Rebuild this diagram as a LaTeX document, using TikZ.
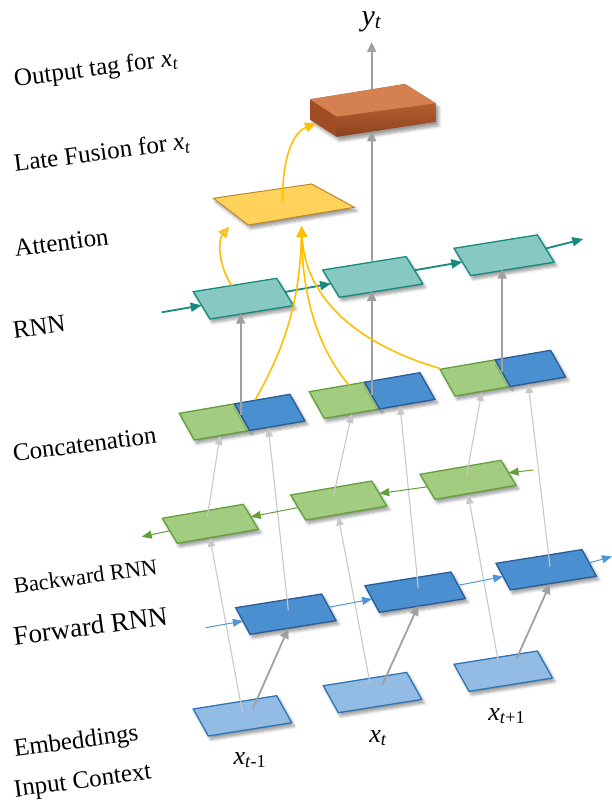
\documentclass[tikz,border=0pt]{standalone}
\usepackage{fontspec}
\setmainfont{Liberation Serif}
\usetikzlibrary{arrows.meta,shadows.blur}
\definecolor{embF}{RGB}{147,188,228}
\definecolor{embD}{RGB}{46,117,182}
\definecolor{fwdF}{RGB}{74,143,208}
\definecolor{fwdD}{RGB}{40,92,150}
\definecolor{grnF}{RGB}{162,204,128}
\definecolor{grnD}{RGB}{98,160,58}
\definecolor{tealF}{RGB}{135,200,195}
\definecolor{tealD}{RGB}{20,138,128}
\definecolor{attF}{RGB}{255,210,92}
\definecolor{attD}{RGB}{190,135,40}
\definecolor{brickT}{RGB}{212,128,80}
\definecolor{brickF}{RGB}{180,94,48}
\definecolor{brickG}{RGB}{140,66,30}
\definecolor{brickL}{RGB}{160,76,36}
\definecolor{yel}{RGB}{255,190,0}
\definecolor{yelL}{RGB}{245,195,110}
\definecolor{grayM}{RGB}{160,160,160}
\definecolor{grayL}{RGB}{200,200,200}
\definecolor{fwdA}{RGB}{80,150,215}
\tikzset{
  boxbase/.style={line width=1.3pt, line join=miter,
    blur shadow={shadow xshift=2.5pt,shadow yshift=-3.5pt,shadow opacity=40,shadow blur steps=6,shadow blur radius=3pt}},
  embbox/.style={boxbase, fill=embF, draw=embD},
  fwdbox/.style={boxbase, fill=fwdF, draw=fwdD},
  grnbox/.style={boxbase, fill=grnF, draw=grnD},
  rnnbox/.style={boxbase, fill=tealF, draw=tealD},
  attbox/.style={boxbase, fill=attF, draw=attD, line width=1pt},
  garrow/.style={draw=grayM, line width=1.8pt, -{Triangle[length=10pt,width=9pt]}},
  lgarrow/.style={draw=grayL, line width=1.1pt, -{Triangle[length=9pt,width=7.5pt]}},
  tarrow/.style={draw=tealD, line width=1.8pt, -{Triangle[length=11pt,width=9pt]}},
  farrow/.style={draw=fwdA, line width=1pt, -{Triangle[length=10pt,width=8pt]}},
  barrow/.style={draw=grnD, line width=1pt, -{Triangle[length=10pt,width=8pt]}},
  yarrow/.style={draw=yel, line width=1.6pt, -{Triangle[length=11pt,width=10pt]}},
  lbl/.style={anchor=base west, inner sep=0pt, font=\fontsize{25}{30}\selectfont},
  xlbl/.style={anchor=center, inner sep=0pt, font=\fontsize{26}{30}\selectfont},
}
\newcommand{\pbox}[8]{%
  \filldraw[#2] (#3,#4) -- ++(#5,-#6) -- ++(#7,#8) -- ++(-#5,#6) -- cycle;
  \coordinate (#1) at ({#3+#5/2+#7/2},{#4-#6/2+#8/2});
  \coordinate (#1-w) at ({#3+#7/2},{#4+#8/2});
  \coordinate (#1-e) at ({#3+#5+#7/2},{#4-#6+#8/2});
}
\newcommand{\xt}{\textit{x}\textsubscript{\textit{t}}}
\newcommand{\tilt}[1]{\rotatebox{7.5}{#1}}
\begin{document}
\begin{tikzpicture}[x=1pt,y=-1pt]
\useasboundingbox (0,0) rectangle (612,807);

% ---------- left labels ----------
\node[lbl] (lOut) at (12.7,86.7) {\tilt{Output tag for \xt}};
\node[lbl] (lFus) at (12.7,171.7) {\tilt{Late Fusion for \xt}};
\node[lbl] (lAtt) at (13.3,256.7) {\tilt{Attention}};
\node[lbl] (lRnn) at (11.7,338.3) {\tilt{RNN}};
\node[lbl] (lCon) at (11.7,461.7) {\tilt{Concatenation}};
\node[lbl, font=\fontsize{22.5}{27}\selectfont] (lBwd) at (12.7,593.3) {\tilt{Backward RNN}};
\node[lbl, font=\fontsize{27}{32}\selectfont] (lFwd) at (12,645) {\tilt{Forward RNN}};
\node[lbl] (lEmb) at (12.7,756.7) {\tilt{Embeddings}};
\node[lbl] (lInp) at (12.7,797) {\tilt{Input Context}};

% ---------- embeddings ----------
\pbox{E1}{embbox}{193.3}{709}{83.4}{13.3}{15}{27}
\pbox{E2}{embbox}{323.3}{685.7}{83.4}{13.3}{15}{27}
\pbox{E3}{embbox}{454}{664.3}{83.4}{13.3}{15}{27}
\node[xlbl] (x1) at (250,760) {\textit{x}\textsubscript{\textit{t}-1}};
\node[xlbl] (x2) at (378,738) {\textit{x}\textsubscript{\textit{t}}};
\node[xlbl] (x3) at (506.7,716) {\textit{x}\textsubscript{\textit{t}+1}};

% ---------- forward RNN ----------
\pbox{F1}{fwdbox}{235.7}{607.7}{86}{13.7}{14.3}{26.6}
\pbox{F2}{fwdbox}{365}{585.7}{86}{13.7}{14.3}{26.6}
\pbox{F3}{fwdbox}{496}{563.3}{86}{13.7}{14.3}{26.6}

% ---------- backward RNN ----------
\pbox{B1}{grnbox}{162.3}{518.3}{81}{14}{15}{25}
\pbox{B2}{grnbox}{290.7}{495}{81}{14}{15}{25}
\pbox{B3}{grnbox}{420}{474.3}{81}{14}{15}{25}

% ---------- concatenation ----------
\pbox{C1g}{grnbox}{179.3}{413.3}{55.3}{9.5}{15}{26.7}
\pbox{C1b}{fwdbox}{234.6}{403.8}{55.3}{9.5}{15}{26.7}
\pbox{C2g}{grnbox}{309.3}{391.7}{55.3}{9.5}{15}{26.7}
\pbox{C2b}{fwdbox}{364.6}{382.2}{55.3}{9.5}{15}{26.7}
\pbox{C3g}{grnbox}{440}{369.3}{55.3}{9.5}{15}{26.7}
\pbox{C3b}{fwdbox}{495.3}{359.8}{55.3}{9.5}{15}{26.7}

% ---------- RNN ----------
\pbox{R1}{rnnbox}{193.3}{291.7}{83.4}{13.4}{16.7}{27.3}
\pbox{R2}{rnnbox}{322.7}{270}{83.4}{13.4}{16.7}{27.3}
\pbox{R3}{rnnbox}{454}{248.3}{83.4}{13.4}{16.7}{27.3}

% ---------- attention ----------
\filldraw[attbox] (213.3,198.3) -- (311.7,184) -- (354.3,207.3) -- (248.3,225) -- cycle;
\coordinate (A) at (282.7,201.7);

% ---------- late fusion brick ----------
\path[blur shadow={shadow xshift=3pt,shadow yshift=-4pt,shadow opacity=40,shadow blur steps=6,shadow blur radius=3pt}, fill=brickL]
  (310,99.3) -- (405,84) -- (435.7,103.3) -- (435.7,121.7) -- (336.7,136.7) -- (310,119.5) -- cycle;
\fill[brickL] (310,99.3) -- (336.7,116.7) -- (336.7,136.7) -- (310,119.5) -- cycle;
\shade[top color=brickF, bottom color=brickG] (336.7,116.7) -- (435.7,103.3) -- (435.7,121.7) -- (336.7,136.7) -- cycle;
\fill[brickT] (310,99.3) -- (405,84) -- (435.7,103.3) -- (336.7,116.7) -- cycle;
\coordinate (LF) at (372,110);

% ---------- connector end points ----------
\coordinate (e1a) at (252.7,709);   \coordinate (f1in) at (288.3,628.4);
\coordinate (e2a) at (382.3,685);   \coordinate (f2in) at (418.3,605.5);
\coordinate (e3a) at (516.7,658.3); \coordinate (f3in) at (550,583.9);
\coordinate (e1b) at (242.3,711.7); \coordinate (b1in) at (210,537.8);
\coordinate (e2b) at (370,683);     \coordinate (b2in) at (338.3,516.3);
\coordinate (e3b) at (498.3,661.7); \coordinate (b3in) at (468.3,494.9);
\coordinate (b1o) at (207.3,516.7); \coordinate (c1gin) at (220,435.7);
\coordinate (b2o) at (333.3,496.7); \coordinate (c2gin) at (351.7,414);
\coordinate (b3o) at (466.7,475);   \coordinate (c3gin) at (481.7,392);
\coordinate (f1o) at (288.3,610);   \coordinate (c1bin) at (268.3,427.7);
\coordinate (f2o) at (418.3,588.3); \coordinate (c2bin) at (400,405.8);
\coordinate (f3o) at (550,566.7);   \coordinate (c3bin) at (528.3,384);
\coordinate (c1o) at (240.7,414.7); \coordinate (r1in) at (240.7,313.6);
\coordinate (c2o) at (371.7,394.8); \coordinate (r2in) at (371.7,291);
\coordinate (c3o) at (502.3,372.3); \coordinate (r3in) at (502.3,268.7);
\coordinate (r2top) at (371.7,261.7); \coordinate (lfin) at (371.7,131.4);
\coordinate (lftop) at (371.7,89.4);  \coordinate (ytip) at (371.7,42);
\coordinate (fin) at (205.7,627.7);   \coordinate (fout) at (612,556.5);
\coordinate (bin) at (533.3,470);     \coordinate (bout) at (141.7,536.7);
\coordinate (rin) at (161.7,312.3);   \coordinate (rout) at (583.3,239);
\coordinate (c1y) at (255,400);       \coordinate (c2y) at (349.3,385.5);
\coordinate (c3y) at (440,368.5);     \coordinate (attin) at (301.7,226);
\coordinate (r1y) at (231.7,285.5);   \coordinate (attl) at (229.3,226.7);
\coordinate (lfl) at (316,123.3);

% ---------- gray connectors ----------
\draw[garrow] (e1a) -- (f1in);
\draw[garrow] (e2a) -- (f2in);
\draw[garrow] (e3a) -- (f3in);
\draw[lgarrow] (e1b) -- (b1in);
\draw[lgarrow] (e2b) -- (b2in);
\draw[lgarrow] (e3b) -- (b3in);
\draw[lgarrow] (b1o) -- (c1gin);
\draw[lgarrow] (b2o) -- (c2gin);
\draw[lgarrow] (b3o) -- (c3gin);
\draw[lgarrow] (f1o) -- (c1bin);
\draw[lgarrow] (f2o) -- (c2bin);
\draw[lgarrow] (f3o) -- (c3bin);
\draw[garrow] (c1o) -- (r1in);
\draw[garrow] (c2o) -- (r2in);
\draw[garrow] (c3o) -- (r3in);
\draw[garrow] (r2top) -- (lfin);
\draw[garrow] (lftop) -- (ytip);
\node[font=\fontsize{30}{34}\selectfont, inner sep=0pt, anchor=base] (yt) at (371.7,25) {\textit{y}\textsubscript{\textit{t}}};

% ---------- chains ----------
\draw[farrow] (fin) -- (F1-w);
\draw[farrow] (F1-e) -- (F2-w);
\draw[farrow] (F2-e) -- (F3-w);
\draw[farrow] (F3-e) -- (fout);
\draw[barrow] (bin) -- (B3-e);
\draw[barrow] (B3-w) -- (B2-e);
\draw[barrow] (B2-w) -- (B1-e);
\draw[barrow] (B1-w) -- (bout);
\draw[tarrow] (rin) -- (R1-w);
\draw[tarrow] (R1-e) -- (R2-w);
\draw[tarrow] (R2-e) -- (R3-w);
\draw[tarrow] (R3-e) -- (rout);

% ---------- attention connectors ----------
\draw[yarrow] (c1y) .. controls (290,340) and (300,290) .. (attin);
\draw[yarrow] (c2y) .. controls (315,345) and (302,290) .. (attin);
\draw[yarrow] (c3y) .. controls (360,345) and (305,300) .. (attin);
\draw[yarrow, -{Triangle[length=11pt,width=10pt,fill=yelL]}] (r1y) .. controls (218,265) and (218,240) .. (attl);
\draw[yarrow] (A) .. controls (282,160) and (292,133) .. (lfl);
\end{tikzpicture}
\end{document}
